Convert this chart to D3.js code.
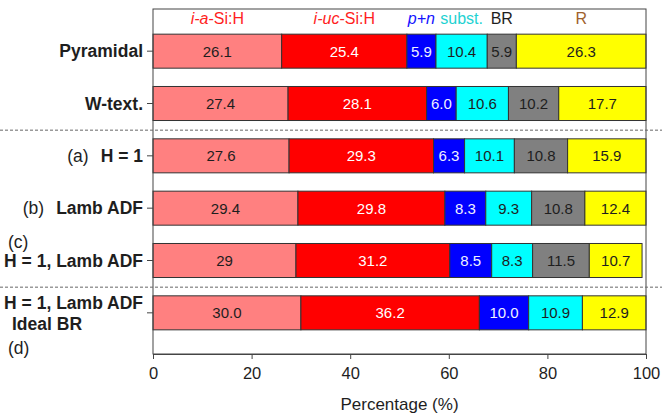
<!DOCTYPE html>
<html>
<head>
<meta charset="utf-8">
<script src="https://cdn.jsdelivr.net/npm/d3@7"></script>
<style>
  html, body { margin: 0; padding: 0; background: #fff; }
  svg { display: block; font-family: "Liberation Sans", Arial, Helvetica, sans-serif; }
</style>
</head>
<body>
<svg id="chart" width="662" height="416"></svg>
<script>
// Loss breakdown per configuration (percent of incident light)
const rowIds = ["pyr", "wtext", "a", "b", "c", "d"];
const rowLabels = ["Pyramidal", "W-text.", "H = 1", "Lamb ADF", "H = 1, Lamb ADF", "H = 1, Lamb ADF"];
const rowPrefixes = ["", "", "(a)", "(b)", "", ""];

const layerKeys = ["aSi", "ucSi", "pn", "subst", "br", "r"];
const aSi   = ["26.1", "27.4", "27.6", "29.4", "29",   "30.0"];
const ucSi  = ["25.4", "28.1", "29.3", "29.8", "31.2", "36.2"];
const pn    = ["5.9",  "6.0",  "6.3",  "8.3",  "8.5",  "10.0"];
const subst = ["10.4", "10.6", "10.1", "9.3",  "8.3",  "10.9"];
const br    = ["5.9",  "10.2", "10.8", "10.8", "11.5", ""];
const rr    = ["26.3", "17.7", "15.9", "12.4", "10.7", "12.9"];

const xTicks = [0, 20, 40, 60, 80, 100];

const fills = { aSi: "#ff8080", ucSi: "#ff0000", pn: "#0000ff", subst: "#00ffff", br: "#808080", r: "#ffff00" };
const valueInk = { aSi: "#1e1e1e", ucSi: "#ffffff", pn: "#f0f0ff", subst: "#1e1e1e", br: "#1e1e1e", r: "#1e1e1e" };

const series = { aSi, ucSi, pn, subst, br, r: rr };
const rows = rowIds.map((id, i) => {
  const o = { id };
  layerKeys.forEach(k => { o[k] = series[k][i] === "" ? 0 : +series[k][i]; o[k + "_t"] = series[k][i]; });
  return o;
});

const svg = d3.select("#chart");
const plotL = 153, plotR = 646, plotT = 9, plotB = 354;

const x = d3.scaleLinear().domain([0, 100]).range([plotL, plotR]);
const y = d3.scaleBand().domain(rowIds).range([25, 339]).paddingInner(0.35).paddingOuter(0.175);

const stacked = d3.stack().keys(layerKeys)(rows);

// bars
const layerG = svg.append("g").selectAll("g").data(stacked).join("g")
  .attr("fill", d => fills[d.key]);
layerG.selectAll("rect").data(d => d.map(s => ({ s, key: d.key })).filter(o => o.s[1] > o.s[0]))
  .join("rect")
  .attr("x", o => x(o.s[0]))
  .attr("y", o => y(o.s.data.id))
  .attr("width", o => x(o.s[1]) - x(o.s[0]))
  .attr("height", y.bandwidth())
  .attr("stroke", "#333")
  .attr("stroke-width", 1);

// segment values
layerG.selectAll("text").data(d => d.map(s => ({ s, key: d.key })).filter(o => o.s[1] > o.s[0]))
  .join("text")
  .attr("x", o => x((o.s[0] + o.s[1]) / 2))
  .attr("y", o => y(o.s.data.id) + y.bandwidth() / 2)
  .attr("dy", "0.36em")
  .attr("text-anchor", "middle")
  .attr("font-size", 15)
  .attr("fill", o => valueInk[o.key])
  .text(o => o.s.data[o.key + "_t"]);

// frame
svg.append("rect")
  .attr("x", plotL).attr("y", plotT)
  .attr("width", plotR - plotL).attr("height", plotB - plotT)
  .attr("fill", "none").attr("stroke", "#444").attr("stroke-width", 1);

// group separators
const sepAfter = [["wtext", "a"], ["c", "d"]];
svg.append("g").selectAll("line").data(sepAfter).join("line")
  .attr("x1", 0).attr("x2", 662)
  .attr("y1", d => (y(d[0]) + y(d[1]) + y.bandwidth()) / 2 + 0.5)
  .attr("y2", d => (y(d[0]) + y(d[1]) + y.bandwidth()) / 2 + 0.5)
  .attr("stroke", "#666").attr("stroke-width", 1).attr("stroke-dasharray", "3,2");

// x axis
const xAxis = svg.append("g")
  .attr("transform", `translate(0,${plotB})`)
  .call(d3.axisBottom(x).tickValues(xTicks).tickSize(5).tickSizeOuter(0).tickPadding(8));
xAxis.select(".domain").attr("stroke", "#444");
xAxis.selectAll(".tick line").attr("stroke", "#444");
xAxis.selectAll(".tick text").attr("font-size", 16.5).attr("fill", "#1e1e1e")
  .attr("font-family", "'Liberation Sans', Arial, sans-serif");

svg.append("text")
  .attr("x", (plotL + plotR) / 2).attr("y", 410)
  .attr("text-anchor", "middle").attr("font-size", 17).attr("fill", "#1e1e1e")
  .text("Percentage (%)");

// y axis ticks
const yAxis = svg.append("g")
  .attr("transform", `translate(${plotL},0)`)
  .call(d3.axisLeft(y).tickSize(6).tickSizeOuter(0).tickFormat(() => ""));
yAxis.select(".domain").remove();
yAxis.selectAll(".tick line").attr("stroke", "#444");

// y labels
const labelX = 143;
const lab = svg.append("g").attr("font-size", 17.5).attr("fill", "#1e1e1e");
rowIds.forEach((id, i) => {
  const cy = y(id) + y.bandwidth() / 2;
  const t = lab.append("text")
    .attr("x", labelX)
    .attr("y", id === "d" ? cy - 10.5 : cy)
    .attr("dy", "0.36em")
    .attr("text-anchor", "end");
  if (rowPrefixes[i]) {
    t.append("tspan").attr("font-weight", "normal").text(rowPrefixes[i]);
    t.append("tspan").attr("dx", 12).attr("font-weight", "bold").text(rowLabels[i]);
  } else {
    t.append("tspan").attr("font-weight", "bold").text(rowLabels[i]);
  }
});
const cyC = y("c") + y.bandwidth() / 2;
lab.append("text").attr("x", 8).attr("y", cyC - 19).attr("dy", "0.36em").text("(c)");
const cyD = y("d") + y.bandwidth() / 2;
lab.append("text").attr("x", 12).attr("y", cyD + 10.5).attr("dy", "0.36em")
  .attr("font-weight", "bold").text("Ideal BR");
lab.append("text").attr("x", 8).attr("y", cyD + 35).attr("dy", "0.36em").text("(d)");

// legend above the first row, centered on its segments
const legendParts = {
  aSi:   { color: "#ff1e1e", parts: [["i-a", true], ["-Si:H", false]] },
  ucSi:  { color: "#ff1e1e", parts: [["i-uc", true], ["-Si:H", false]] },
  pn:    { color: "#1414ff", parts: [["p+n", true]] },
  subst: { color: "#1ed2d2", parts: [["subst.", false]] },
  br:    { color: "#1e1e1e", parts: [["BR", false]] },
  r:     { color: "#a0622d", parts: [["R", false]] }
};
const legendY = 18;
stacked.forEach(layer => {
  const s = layer[0];
  const info = legendParts[layer.key];
  const t = svg.append("text")
    .attr("x", x((s[0] + s[1]) / 2))
    .attr("y", legendY)
    .attr("dy", "0.36em")
    .attr("text-anchor", "middle")
    .attr("font-size", 16)
    .attr("fill", info.color);
  info.parts.forEach(p => t.append("tspan").attr("font-style", p[1] ? "italic" : "normal").text(p[0]));
});
</script>
</body>
</html>
